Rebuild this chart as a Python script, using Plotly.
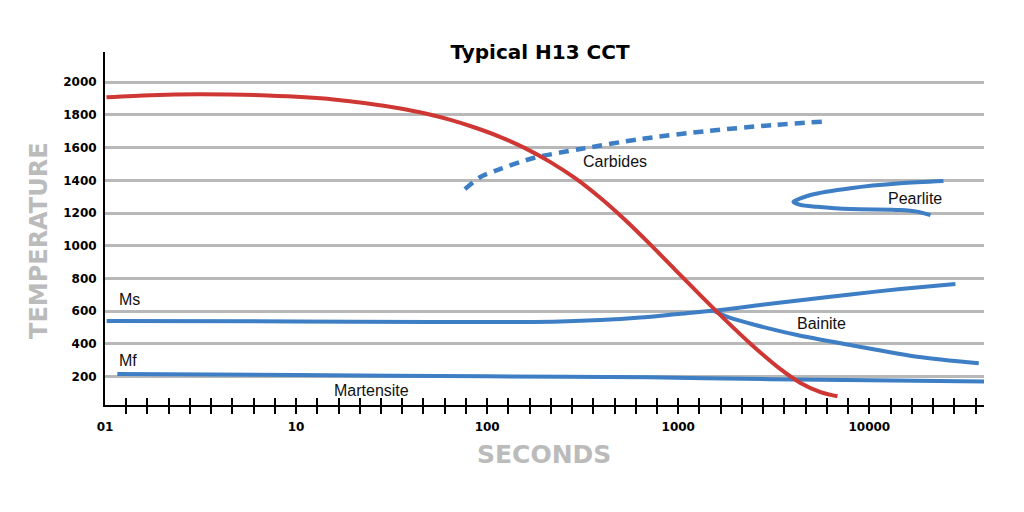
import math
import plotly.graph_objects as go

# ---------------- data ----------------
cool_t = [1.018, 1.73, 3.16, 7.086, 15.7, 35.18, 47.55, 64.27, 86.85, 117.4, 158.6, 214.4,
          289.8, 391.7, 529.3, 715.3, 966.7, 1307, 1766, 2387, 3426, 4360, 5548, 6810]
cool_T = [1908, 1921, 1926, 1919, 1895, 1840, 1809, 1770, 1722, 1665, 1596, 1512,
          1412, 1292, 1156, 1007, 852, 697, 546, 402, 246, 162, 106, 80]

carb_t = [76.5, 92.2, 117.4, 174.7, 308, 634, 1422, 3150, 5684]
carb_T = [1347, 1421, 1470, 1537, 1592, 1653, 1702, 1739, 1759]

pearl_t = [24420, 14540, 7963, 4918, 4355, 4006, 4355, 5331, 7963, 14540, 17790, 20880]
pearl_T = [1396, 1382, 1352, 1311, 1290, 1270, 1250, 1239, 1225, 1219, 1209, 1188]

ms_t = [1.02, 10, 50, 149, 242, 392, 633, 1026, 1661, 2689, 4360, 7963, 14540, 28210]
ms_T = [541, 538, 535, 534, 537, 546, 562, 585, 608, 638, 668, 703, 736, 767]

bain_t = [1528, 1876, 2532, 4191, 7963, 17790, 37370]
bain_T = [603, 559, 516, 455, 394, 322, 282]

mf_t = [1.16, 10, 100, 700, 3000, 10000, 39800]
mf_T = [217, 210, 202, 196, 185, 178, 170]

y_ticks = [200, 400, 600, 800, 1000, 1200, 1400, 1600, 1800, 2000]
x_label_vals = [1, 10, 100, 1000, 10000]
x_label_text = ["01", "10", "100", "1000", "10000"]
x_tick_vals = [10 ** (k / 9) for k in range(1, 42)]

label_text = ["Ms", "Mf", "Martensite", "Carbides", "Pearlite", "Bainite"]
label_t = [1.16, 1.16, 24.7, 469, 17430, 5600]
label_T = [675, 302, 113, 1518, 1290, 526]
label_anchor = ["left", "left", "center", "center", "center", "center"]

RED = "#cf3734"
BLUE = "#3d7ec4"
GRID = "#b8b8b8"
X_RANGE = [0, 4.6]
Y_RANGE = [27, 2185]

fig = go.Figure()

line_kw = dict(mode="lines", showlegend=False, hoverinfo="skip")
spl = dict(shape="spline", smoothing=0.8)
fig.add_trace(go.Scatter(x=ms_t, y=ms_T, line=dict(color=BLUE, width=4, **spl), **line_kw))
fig.add_trace(go.Scatter(x=bain_t, y=bain_T, line=dict(color=BLUE, width=4, **spl), **line_kw))
fig.add_trace(go.Scatter(x=mf_t, y=mf_T, line=dict(color=BLUE, width=4, **spl), **line_kw))
fig.add_trace(go.Scatter(x=pearl_t, y=pearl_T, line=dict(color=BLUE, width=4, **spl), **line_kw))
fig.add_trace(go.Scatter(x=carb_t, y=carb_T, line=dict(color=BLUE, width=4.5, dash="10px,7px", **spl), **line_kw))
fig.add_trace(go.Scatter(x=cool_t, y=cool_T, line=dict(color=RED, width=4, **spl), **line_kw))

# helper traces so the overlay axes exist
fig.add_trace(go.Scatter(x=[1], y=[None], xaxis="x2", **line_kw))
fig.add_trace(go.Scatter(x=[1], y=[None], xaxis="x3", **line_kw))

for text, tv, Tv, anchor in zip(label_text, label_t, label_T, label_anchor):
    fig.add_annotation(x=math.log10(tv), y=Tv, xref="x", yref="y", text=text, showarrow=False,
                       xanchor=anchor, yanchor="middle",
                       font=dict(family="Liberation Sans", size=16, color="#111111"))

fig.add_annotation(x=-0.0751, y=0.4674, xref="paper", yref="paper", text="TEMPERATURE",
                   textangle=-90, showarrow=False, xanchor="center", yanchor="middle",
                   font=dict(family="DejaVu Sans", size=24, color="#bbbbbb", weight="bold"))
fig.add_annotation(x=0.4994, y=-0.1416, xref="paper", yref="paper", text="SECONDS",
                   showarrow=False, xanchor="center", yanchor="middle",
                   font=dict(family="DejaVu Sans", size=25, color="#bbbbbb", weight="bold"))

fig.update_layout(
    width=1024, height=512,
    margin=dict(l=105, r=40, t=52, b=107),
    paper_bgcolor="white", plot_bgcolor="white",
    title=dict(text="<b>Typical H13 CCT</b>", x=540 / 1024, xanchor="center",
               y=1 - 52 / 512, yanchor="middle", yref="container",
               font=dict(family="DejaVu Sans", size=20, color="black")),
    xaxis=dict(type="log", range=X_RANGE, tickmode="array", tickvals=x_tick_vals,
               showticklabels=False, ticks="outside", ticklen=7, tickwidth=2, tickcolor="black",
               showline=True, linecolor="black", linewidth=2, showgrid=False, zeroline=False),
    xaxis2=dict(type="log", range=X_RANGE, overlaying="x", anchor="y", tickmode="array",
                tickvals=x_tick_vals, showticklabels=False, ticks="inside", ticklen=7,
                tickwidth=2, tickcolor="black", showline=False, showgrid=False, zeroline=False),
    xaxis3=dict(type="log", range=X_RANGE, overlaying="x", anchor="y", tickmode="array",
                tickvals=x_label_vals, ticktext=x_label_text, ticks="", showline=False,
                showgrid=False, zeroline=False, ticklabelstandoff=13,
                tickfont=dict(family="DejaVu Sans", size=12, color="black", weight="bold")),
    yaxis=dict(range=Y_RANGE, tickmode="array", tickvals=y_ticks, ticks="",
               showgrid=True, gridcolor=GRID, gridwidth=2.5, showline=True, linecolor="black",
               linewidth=2, zeroline=False, ticklabelstandoff=4,
               tickfont=dict(family="DejaVu Sans", size=12, color="black", weight="bold")),
)

fig.write_html("out.html")
